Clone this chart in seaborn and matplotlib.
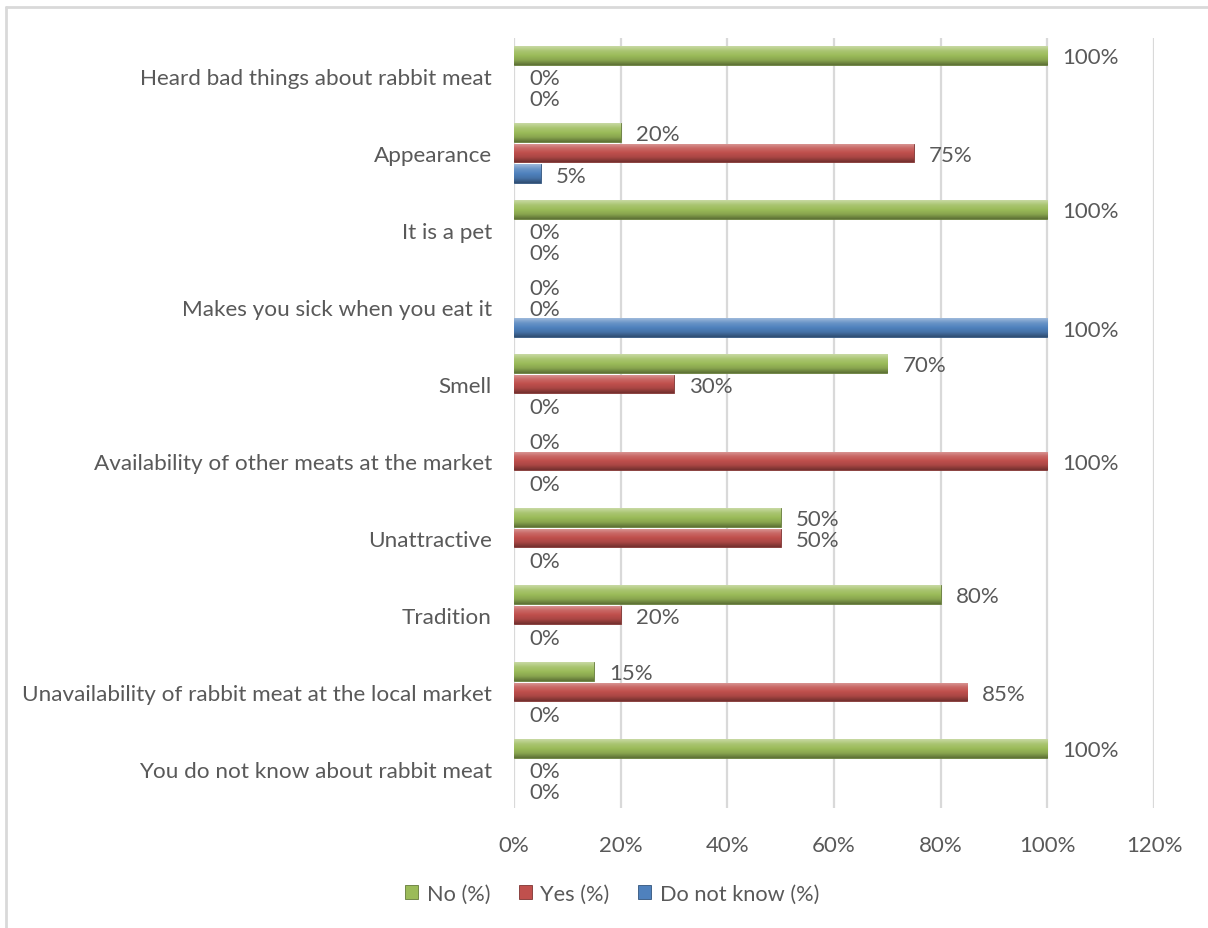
import numpy as np
import pandas as pd
import matplotlib
matplotlib.use("Agg")
import matplotlib.pyplot as plt
import seaborn as sns
from matplotlib.colors import LinearSegmentedColormap, to_rgb
from matplotlib.patches import Patch
from matplotlib.lines import Line2D

reasons = [
    "Heard bad things about rabbit meat",
    "Appearance",
    "It is a pet",
    "Makes you sick when you eat it",
    "Smell",
    "Availability of other meats at the market",
    "Unattractive",
    "Tradition",
    "Unavailability of rabbit meat at the local market",
    "You do not know about rabbit meat",
]
no_pct = [100, 20, 100, 0, 70, 0, 50, 80, 15, 100]
yes_pct = [0, 75, 0, 0, 30, 100, 50, 20, 85, 0]
dont_know_pct = [0, 5, 0, 100, 0, 0, 0, 0, 0, 0]
series = ["No (%)", "Yes (%)", "Do not know (%)"]
x_ticks = [0, 20, 40, 60, 80, 100, 120]

colors = {"No (%)": "#9BBB59", "Yes (%)": "#C0504D", "Do not know (%)": "#4F81BD"}

df = pd.DataFrame({
    "reason": reasons * 3,
    "series": np.repeat(series, len(reasons)),
    "value": no_pct + yes_pct + dont_know_pct,
})

sns.set_style("white")
plt.rcParams["font.family"] = ["Lato", "DejaVu Sans"]
text_color = "#595959"
fs = 16

fig = plt.figure(figsize=(12.08, 9.29), dpi=100)
ax = fig.add_axes([514 / 1208, 1 - 808.5 / 929, 640 / 1208, 770 / 929])

sns.barplot(data=df, y="reason", x="value", hue="series", order=reasons,
            hue_order=series, palette=colors, orient="h", width=0.8, gap=0.1,
            ax=ax, legend=False, saturation=1, errorbar=None)

ax.set_xlim(0, 120)
ax.set_xticks(x_ticks)
ax.set_xticklabels([f"{t}%" for t in x_ticks], color=text_color, fontsize=fs)
ax.tick_params(axis="x", length=0, pad=20)
ax.tick_params(axis="y", length=0, pad=16, labelsize=fs + 0.2, labelcolor=text_color)
ax.set_xlabel("")
ax.set_ylabel("")
for s in ax.spines.values():
    s.set_visible(False)
ax.xaxis.grid(True, color="#d9d9d9", lw=1.6, zorder=0)
ax.set_axisbelow(True)


def shade(c, f):
    r = np.array(to_rgb(c))
    if f > 0:
        return tuple(r + (1 - r) * f)
    return tuple(r * (1 + f))


# bevelled gradient on each bar
for container, name in zip(ax.containers, series):
    base = colors[name]
    cmap = LinearSegmentedColormap.from_list(
        name, [shade(base, 0.45), shade(base, 0.15), base, shade(base, -0.12), shade(base, -0.4)])
    grad = np.linspace(0, 1, 64).reshape(-1, 1)
    for bar in container:
        w = bar.get_width()
        if w <= 0:
            bar.set_visible(False)
            continue
        x0, y0 = bar.get_x(), bar.get_y()
        h = bar.get_height()
        bar.set_edgecolor(shade(base, -0.35))
        bar.set_linewidth(0.6)
        im = ax.imshow(grad, cmap=cmap, aspect="auto", interpolation="bilinear",
                       extent=(x0, x0 + w, y0 + h, y0), zorder=bar.get_zorder() + 0.1)
        im.set_clip_path(bar)

ax.set_xlim(0, 120)
ax.set_ylim(len(reasons) - 0.5, -0.5)

# value labels
for container, name, vals in zip(ax.containers, series, [no_pct, yes_pct, dont_know_pct]):
    for bar, v in zip(container, vals):
        yc = bar.get_y() + bar.get_height() / 2
        ax.annotate(f"{v}%", xy=(v, yc), xytext=(15, -2), textcoords="offset pixels",
                    ha="left", va="center", fontsize=fs, color=text_color, zorder=5)

# legend
handles = [Patch(facecolor=colors[s], edgecolor=shade(colors[s], -0.35), lw=0.6) for s in series]
fig.legend(handles, series, loc="center", bbox_to_anchor=(612 / 1208, 1 - 895 / 929),
           ncol=3, frameon=False, fontsize=15.7, labelcolor=text_color,
           handlelength=0.6, handleheight=0.6, handletextpad=0.4, columnspacing=1.3)

# chart area border
fig.add_artist(Line2D([6 / 1208, 6 / 1208], [0, 1 - 8 / 929], transform=fig.transFigure,
                      color="#d9d9d9", lw=2))
fig.add_artist(Line2D([6 / 1208, 1], [1 - 8 / 929, 1 - 8 / 929], transform=fig.transFigure,
                      color="#d9d9d9", lw=2))

fig.savefig("out.png", dpi=100, facecolor="white")
